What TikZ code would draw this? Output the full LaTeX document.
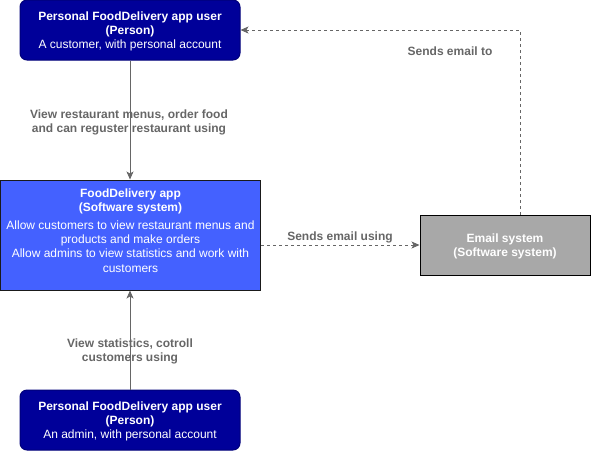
\documentclass[tikz,border=0pt]{standalone}
\usepackage{fontspec}
\setmainfont{Liberation Sans}
\usetikzlibrary{arrows.meta}
\definecolor{personf}{HTML}{000099}
\definecolor{personb}{HTML}{00007A}
\definecolor{appf}{HTML}{4461FF}
\definecolor{appb}{HTML}{1A1A1A}
\definecolor{mailf}{HTML}{A8A8A8}
\definecolor{lbl}{HTML}{666666}
\begin{document}
\begin{tikzpicture}[x=1pt,y=-1pt,
  font=\fontsize{12}{14.3}\selectfont,
  personbox/.style={draw=personb, fill=personf, rounded corners=7pt, line width=1pt,
    minimum width=220pt, minimum height=60pt, text=white, align=center, inner sep=0pt},
  appbox/.style={draw=appb, fill=appf, line width=1pt,
    minimum width=260pt, minimum height=110pt, inner sep=0pt},
  mailbox/.style={draw=black, fill=mailf, line width=1pt,
    minimum width=170pt, minimum height=60pt, text=white, align=center, inner sep=0pt},
  boxtext/.style={text=white, align=center, inner sep=0pt},
  conn/.style={draw=lbl, line width=0.8pt, -{Stealth[length=8pt,width=7pt,inset=2pt]}},
  dashconn/.style={conn, dash pattern=on 3pt off 3pt},
  lbltext/.style={text=lbl, font=\fontsize{12}{14}\selectfont\bfseries, align=center, inner sep=0pt}
]
\useasboundingbox (0,0) rectangle (591,451);
\node[personbox] (cust) at (130,30) {};
\node[boxtext] (custtext) at (130,31.5) {\textbf{Personal FoodDelivery app user}\\\textbf{(Person)}\\A customer, with personal account};
\node[appbox] (app) at (130.5,235) {};
\node[boxtext] (apptext) at (130.5,230.5) {\textbf{FoodDelivery app}\\\textbf{(Software system)}\\[3pt]Allow customers to view restaurant menus and\\products and make orders\\Allow admins to view statistics and work with\\customers};
\node[mailbox] (mail) at (505,245) {};
\node[boxtext] (mailtext) at (505,246.5) {\textbf{Email system}\\\textbf{(Software system)}};
\node[personbox] (admin) at (130,420) {};
\node[boxtext] (admintext) at (130,421.5) {\textbf{Personal FoodDelivery app user}\\\textbf{(Person)}\\An admin, with personal account};
\coordinate (bend) at (520,30);
\draw[conn] (cust.south) -- (cust.south |- app.north);
\draw[conn] (admin.north) -- (admin.north |- app.south);
\draw[dashconn] (app.east |- mail.west) -- (mail.west);
\draw[dashconn] (mail.north -| bend) -- (bend) -- (cust.east);
\node[lbltext] (l1) at (129,122) {View restaurant menus, order food\\and can reguster restaurant using};
\node[lbltext] (l2) at (130,351) {View statistics, cotroll\\customers using};
\node[lbltext] (l3) at (340,237) {Sends email using};
\node[lbltext] (l4) at (450,51) {Sends email to};
\end{tikzpicture}
\end{document}
